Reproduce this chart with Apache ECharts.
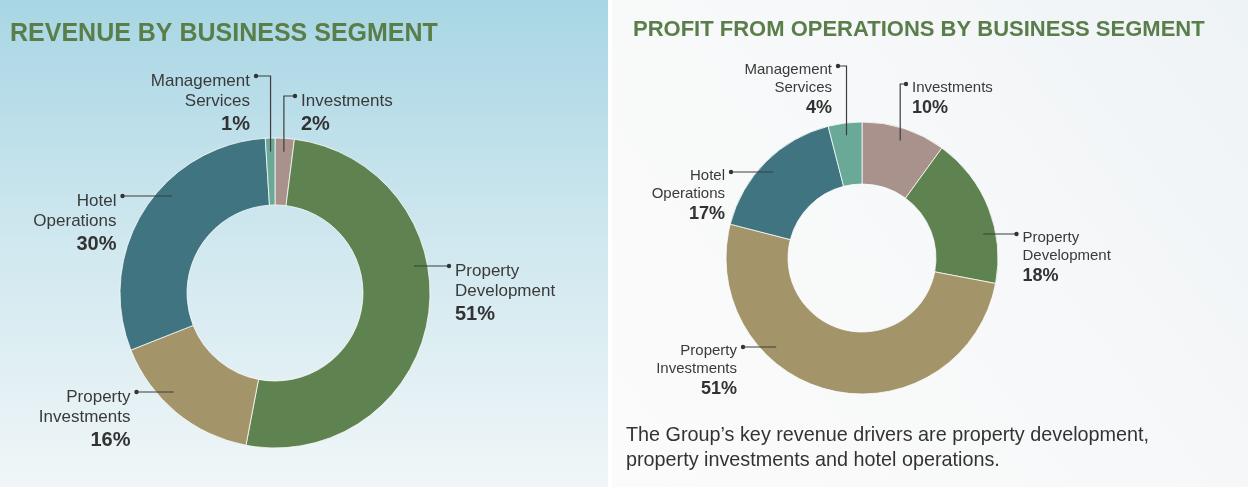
<!DOCTYPE html>
<html lang="en">
<head>
<meta charset="UTF-8">
<title>Business segments</title>
<style>
    *{
        margin: 0;
        padding: 0;
    }
    #main{
        width: 1248px;
        height: 500px;
        background: #fff;
    }
</style>
</head>
<body>
<div id="main"></div>
<script src="https://cdn.jsdelivr.net/npm/echarts@6/dist/echarts.min.js"></script>
<script>
// data
var segNames = ['Investments', 'Property Development', 'Property Investments', 'Hotel Operations', 'Management Services'];
var revenueValues = [2, 51, 16, 30, 1];
var profitValues = [10, 18, 51, 17, 4];
var segColors = ['#a8928b', '#5f8350', '#a39469', '#3f7480', '#6aa898'];
var revenueTitle = 'REVENUE BY BUSINESS SEGMENT';
var profitTitle = 'PROFIT FROM OPERATIONS BY BUSINESS SEGMENT';
var noteText = 'The Group\u2019s key revenue drivers are property development,\nproperty investments and hotel operations.';

// layout of the two donuts and where their labels sit (dot x, dot y, side, kind)
var FONT = '"Liberation Sans", Arial, sans-serif';
var leftPie = {cx: 275, cy: 293, r0: 88, r1: 155, nameSize: 17, nameLh: 20, pctSize: 20, pctLh: 26};
var rightPie = {cx: 862, cy: 258, r0: 74, r1: 136, nameSize: 15, nameLh: 18, pctSize: 18, pctLh: 23};
var leftAnchors = [[295, 96, 'R', 'top'], [449, 266, 'R', 'side'], [136.5, 392, 'L', 'side'], [122.5, 196, 'L', 'side'], [256, 76, 'L', 'top']];
var rightAnchors = [[906, 84, 'R', 'top'], [1016.5, 234, 'R', 'side'], [743, 347, 'L', 'side'], [731, 172, 'L', 'side'], [838, 66, 'L', 'top']];

//slice mid angle (deg, clockwise from 12 o'clock)
function midAngle(values, idx){
    var total = 0, before = 0;
    for(var i = 0; i < values.length; i++){
        total += values[i];
        if(i < idx) before += values[i];
    }
    return (before + values[idx] / 2) / total * 360;
}

//leader line: from inside the ring to the label dot
function leaderPoints(pie, values, anchors, idx){
    var lineR = pie.r0 + 0.8 * (pie.r1 - pie.r0);
    var a = anchors[idx];
    var dotX = a[0], dotY = a[1];
    if(a[3] == 'top'){
        var t = midAngle(values, idx) * Math.PI / 180;
        var ex = pie.cx + lineR * Math.sin(t);
        var ey = pie.cy - lineR * Math.cos(t);
        return [[ex, ey], [ex, dotY], [dotX, dotY]];
    }
    var dy = dotY - pie.cy;
    var dx = Math.sqrt(Math.max(lineR * lineR - dy * dy, 0));
    var ex2 = a[2] == 'R' ? pie.cx + dx : pie.cx - dx;
    return [[ex2, dotY], [dotX, dotY]];
}

function makeLayout(anchors){
    return function(params){
        var a = anchors[params.dataIndex];
        return {
            x: a[2] == 'R' ? a[0] + 6 : a[0] - 6,
            y: a[1] - 5,
            align: a[2] == 'R' ? 'left' : 'right',
            verticalAlign: 'top'
        };
    };
}

function makeFormatter(anchors){
    return function(p){
        var s = anchors[p.dataIndex][2] == 'R' ? 'l' : 'r';
        var parts = p.name.split(' ');
        var first = parts.shift();
        var lines = ['{n' + s + '|' + first + '}'];
        if(parts.length) lines.push('{n' + s + '|' + parts.join(' ') + '}');
        lines.push('{p' + s + '|' + p.value + '%}');
        return lines.join('\n');
    };
}

function makeRich(pie){
    var n = {fontFamily: FONT, fontSize: pie.nameSize, lineHeight: pie.nameLh, color: '#3a3a3a'};
    var p = {fontFamily: FONT, fontSize: pie.pctSize, lineHeight: pie.pctLh, color: '#333', fontWeight: 'bold'};
    return {
        nl: Object.assign({align: 'left'}, n),
        nr: Object.assign({align: 'right'}, n),
        pl: Object.assign({align: 'left'}, p),
        pr: Object.assign({align: 'right'}, p)
    };
}

function makeSeries(pie, values, anchors){
    var data = [];
    for(var i = 0; i < segNames.length; i++){
        data.push({
            name: segNames[i],
            value: values[i],
            itemStyle: {color: segColors[i]},
            label: {align: anchors[i][2] == 'R' ? 'left' : 'right'}
        });
    }
    return {
        type: 'pie',
        center: [pie.cx, pie.cy],
        radius: [pie.r0, pie.r1],
        startAngle: 90,
        clockwise: true,
        avoidLabelOverlap: false,
        minShowLabelAngle: 0,
        silent: true,
        emphasis: {disabled: true},
        itemStyle: {borderColor: 'rgba(255,255,255,0.75)', borderWidth: 1},
        label: {
            show: true,
            position: 'outside',
            formatter: makeFormatter(anchors),
            rich: makeRich(pie)
        },
        labelLine: {show: false},
        labelLayout: makeLayout(anchors),
        data: data
    };
}

//leader lines + dots drawn on top of the ring
function makeLeaders(pie, values, anchors){
    var els = [];
    for(var i = 0; i < anchors.length; i++){
        els.push({
            type: 'polyline',
            shape: {points: leaderPoints(pie, values, anchors, i)},
            style: {stroke: '#3d3d3d', lineWidth: 1.2, fill: null},
            z: 100,
            silent: true
        });
        els.push({
            type: 'circle',
            shape: {cx: anchors[i][0], cy: anchors[i][1], r: 2.2},
            style: {fill: '#333'},
            z: 101,
            silent: true
        });
    }
    return els;
}

var myChart = echarts.init(document.getElementById('main'), null, {renderer: 'canvas'});
var option = {
    animation: false,
    title: [{
        text: revenueTitle,
        left: 5,
        top: 17,
        textStyle: {fontFamily: FONT, fontSize: 25, fontWeight: 'bold', color: '#5a7e4a'}
    }, {
        text: profitTitle,
        left: 628,
        top: 14,
        textStyle: {fontFamily: FONT, fontSize: 22, fontWeight: 'bold', color: '#5a7e4a'}
    }],
    graphic: [{
        type: 'rect',
        shape: {x: 0, y: 0, width: 608, height: 487},
        style: {
            fill: new echarts.graphic.LinearGradient(0, 0, 0, 1, [
                {offset: 0, color: '#a8d6e4'},
                {offset: 0.5, color: '#d0e8ef'},
                {offset: 1, color: '#f0f6f8'}
            ])
        },
        z: -10,
        silent: true
    }, {
        type: 'rect',
        shape: {x: 612, y: 0, width: 636, height: 487},
        style: {
            fill: new echarts.graphic.LinearGradient(1, 0, 0, 1, [
                {offset: 0, color: '#eef3f6'},
                {offset: 0.45, color: '#f7f8f9'},
                {offset: 1, color: '#fbfbfb'}
            ])
        },
        z: -10,
        silent: true
    }, {
        type: 'text',
        x: 626,
        y: 423,
        style: {
            text: noteText,
            fontFamily: FONT,
            fontSize: 19.8,
            lineHeight: 25,
            fill: '#333',
            verticalAlign: 'top'
        },
        silent: true
    }].concat(makeLeaders(leftPie, revenueValues, leftAnchors), makeLeaders(rightPie, profitValues, rightAnchors)),
    series: [
        makeSeries(leftPie, revenueValues, leftAnchors),
        makeSeries(rightPie, profitValues, rightAnchors)
    ]
};
myChart.setOption(option);
</script>
</body>
</html>
